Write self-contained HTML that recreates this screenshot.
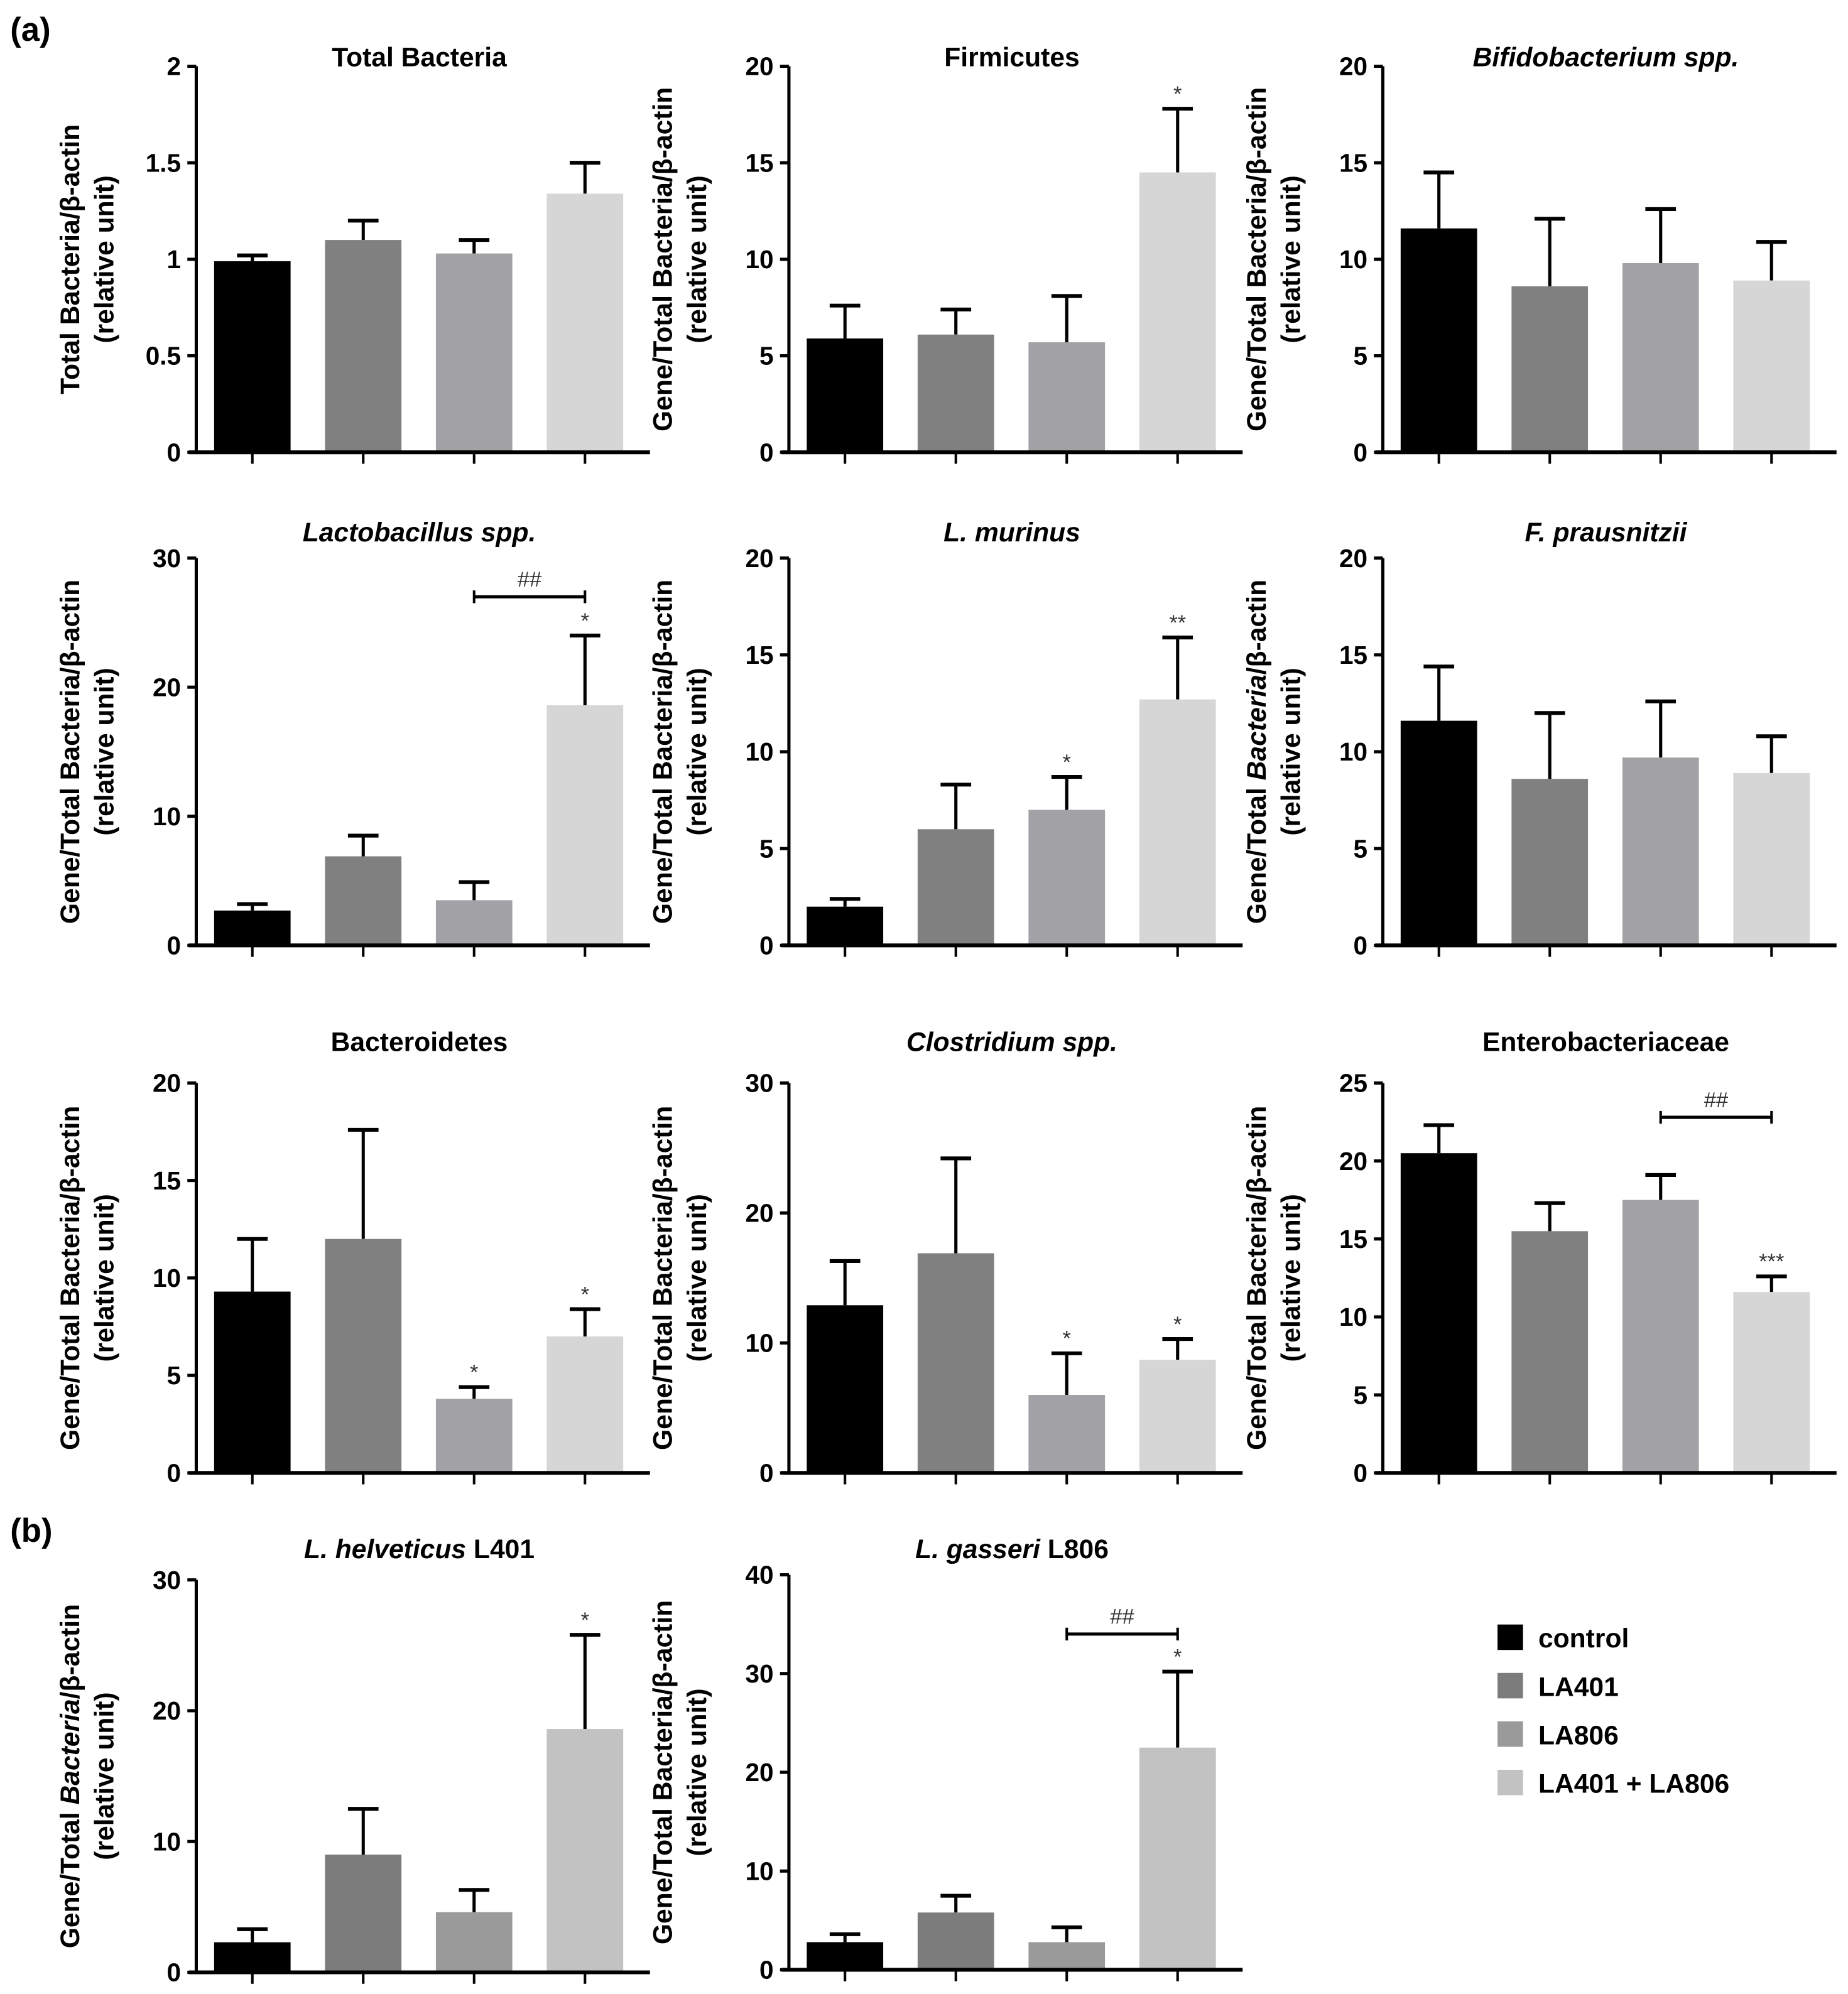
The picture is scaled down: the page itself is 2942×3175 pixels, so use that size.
<!DOCTYPE html>
<html><head><meta charset="utf-8"><style>
html,body{margin:0;padding:0;background:#fff;}
svg{display:block;font-family:"Liberation Sans",Arial,sans-serif;}
</style></head><body>
<svg id="fig" width="2942" height="3175" viewBox="0 0 1450 1565" preserveAspectRatio="none" xmlns="http://www.w3.org/2000/svg"></svg>
<script>
const groups = ["control","LA401","LA806","LA401 + LA806"];
const colorsA = ["#000000","#808080","#a2a2a6","#d6d6d6"];
const colorsB = ["#000000","#7c7c7c","#9a9a9a","#c2c2c2"];
const titles = ["Total Bacteria","Firmicutes","Bifidobacterium  spp.","Lactobacillus  spp.","L. murinus","F. prausnitzii","Bacteroidetes","Clostridium  spp.","Enterobacteriaceae","L. helveticus L401","L. gasseri L806"];
const yMaxes = [2,20,20,30,20,20,20,30,25,30,40];
const yStepsArr = [0.5,5,5,10,5,5,5,10,5,10,10];
const means = [
 [0.99,1.10,1.03,1.34],[5.9,6.1,5.7,14.5],[11.6,8.6,9.8,8.9],
 [2.7,6.9,3.5,18.6],[2.0,6.0,7.0,12.7],[11.6,8.6,9.7,8.9],
 [9.3,12.0,3.8,7.0],[12.9,16.9,6.0,8.7],[20.5,15.5,17.5,11.6],
 [2.3,9.0,4.6,18.6],[2.8,5.8,2.8,22.5]];
const errTops = [
 [1.02,1.20,1.10,1.50],[7.6,7.4,8.1,17.8],[14.5,12.1,12.6,10.9],
 [3.2,8.5,4.9,24.0],[2.4,8.3,8.7,15.9],[14.4,12.0,12.6,10.8],
 [12.0,17.6,4.4,8.4],[16.3,24.2,9.2,10.3],[22.3,17.3,19.1,12.6],
 [3.3,12.5,6.3,25.8],[3.6,7.5,4.3,30.2]];
const stars = [
 ["","","",""],["","","","*"],["","","",""],
 ["","","","*"],["","","*","**"],["","","",""],
 ["","","*","*"],["","","*","*"],["","","","***"],
 ["","","","*"],["","","","*"]];
const hashBracketY = [null,null,null,27,null,null,null,null,22.8,null,34];

const NS="http://www.w3.org/2000/svg";
const svg=document.getElementById('fig');
function mk(tag,attrs,parent){const e=document.createElementNS(NS,tag);for(const k in attrs)e.setAttribute(k,attrs[k]);(parent||svg).appendChild(e);return e;}

const colAxisX=[154,619,1085];
const rowGeom=[[52,355],[438,742],[850,1156],[1240,1548]];
const titleY=[52,425,825,1223];
function panelGeom(i){
  if(i<9) return {ax:colAxisX[i%3],top:rowGeom[Math.floor(i/3)][0],bot:rowGeom[Math.floor(i/3)][1],ty:titleY[Math.floor(i/3)]};
  return {ax:colAxisX[i-9],top:rowGeom[3][0]+(i===10?-4:0),bot:rowGeom[3][1]+(i===10?-2:0),ty:titleY[3]};
}
const ylabel1=["Total Bacteria/β-actin","Gene/Total Bacteria/β-actin"];

for(let i=0;i<11;i++){
  const g=panelGeom(i);
  const pg=mk('g',{});
  
  
  const yMax=yMaxes[i], step=yStepsArr[i];
  const y=v=>g.bot-(v/yMax)*(g.bot-g.top);
  const x=k=>g.ax+44+k*87;
  const cols=i<9?colorsA:colorsB;
  for(let k=0;k<4;k++){
    const cx=x(k);
    const et=y(errTops[i][k]);
    const ln=mk('line',{x1:cx,x2:cx,y1:y(means[i][k]),y2:et,stroke:'#000','stroke-width':2.5},pg);
    
    
    const cap=mk('line',{x1:cx-12,x2:cx+12,y1:et,y2:et,stroke:'#000','stroke-width':3},pg);
    
    
    const r=mk('rect',{x:cx-30,y:y(means[i][k]),width:60,height:g.bot-y(means[i][k]),fill:cols[k]},pg);
    
    
    if(stars[i][k]){
      const s=mk('text',{x:cx,y:et-6,'text-anchor':'middle','font-size':17,fill:'#333'},pg);
      s.textContent=stars[i][k];
      
      
    }
  }
  if(hashBracketY[i]!==null){
    const by=y(hashBracketY[i]);
    mk('line',{x1:x(2),x2:x(3),y1:by,y2:by,stroke:'#000','stroke-width':2.5},pg);
    mk('line',{x1:x(2),x2:x(2),y1:by-5,y2:by+5,stroke:'#000','stroke-width':2},pg);
    mk('line',{x1:x(3),x2:x(3),y1:by-5,y2:by+5,stroke:'#000','stroke-width':2},pg);
    const h=mk('text',{x:(x(2)+x(3))/2,y:by-8,'text-anchor':'middle','font-size':17,fill:'#333'},pg);
    h.textContent='##';
    
    
  }
  const ya=mk('line',{x1:g.ax,x2:g.ax,y1:g.top,y2:g.bot,stroke:'#000','stroke-width':2.5},pg);
  
  
  const xa=mk('line',{x1:g.ax-6,x2:g.ax+356,y1:g.bot,y2:g.bot,stroke:'#000','stroke-width':3},pg);
  
  
  for(let k=0;k<4;k++) mk('line',{x1:x(k),x2:x(k),y1:g.bot,y2:g.bot+9,stroke:'#000','stroke-width':2},pg);
  for(let v=0;v<=yMax+1e-9;v+=step){
    const yy=y(v);
    mk('line',{x1:g.ax-7,x2:g.ax,y1:yy,y2:yy,stroke:'#000','stroke-width':2.5},pg);
    const t=mk('text',{x:g.ax-12,y:yy+7,'text-anchor':'end','font-size':20,'font-weight':'bold'},pg);
    t.textContent=String(Math.round(v*10)/10);
    
    
  }
  const tt=mk('text',{x:g.ax+175,y:g.ty,'text-anchor':'middle','font-size':21,'font-weight':'bold'},pg);
  const italic=[2,3,4,5,7,9,10].includes(i);
  if(i===9||i===10){
    const parts=i===9?["L. helveticus"," L401"]:["L. gasseri"," L806"];
    const a=mk('tspan',{'font-style':'italic'},tt);a.textContent=parts[0];
    const b=mk('tspan',{},tt);b.textContent=parts[1];
  } else { if(italic) tt.setAttribute('font-style','italic'); tt.textContent=titles[i]; }
  
  
  const cy=(g.top+g.bot)/2;
  const lx=g.ax-92;
  const yl=mk('text',{transform:`translate(${lx},${cy}) rotate(-90)`,'text-anchor':'middle','font-size':21,'font-weight':'bold'},pg);
  if(i===5||i===9){
    const a=mk('tspan',{},yl);a.textContent="Gene/Total ";
    const b=mk('tspan',{'font-style':'italic'},yl);b.textContent="Bacteria";
    const c=mk('tspan',{},yl);c.textContent="/β-actin";
  } else yl.textContent=i===0?ylabel1[0]:ylabel1[1];
  
  
  const yl2=mk('text',{transform:`translate(${lx+27},${cy}) rotate(-90)`,'text-anchor':'middle','font-size':21,'font-weight':'bold'},pg);
  yl2.textContent="(relative unit)";
  
  
}
const la=mk('text',{x:8,y:32,'font-size':26,'font-weight':'bold'});la.textContent="(a)";


const lb=mk('text',{x:8,y:1210,'font-size':26,'font-weight':'bold'});lb.textContent="(b)";


for(let k=0;k<4;k++){
  const yy=1285+k*38;
  const sq=mk('rect',{x:1175,y:yy-10,width:20,height:20,fill:colorsB[k]});
  
  
  const t=mk('text',{x:1207,y:yy+8,'font-size':21,'font-weight':'bold'});
  t.textContent=groups[k];
  
  
}
</script>
</body></html>
